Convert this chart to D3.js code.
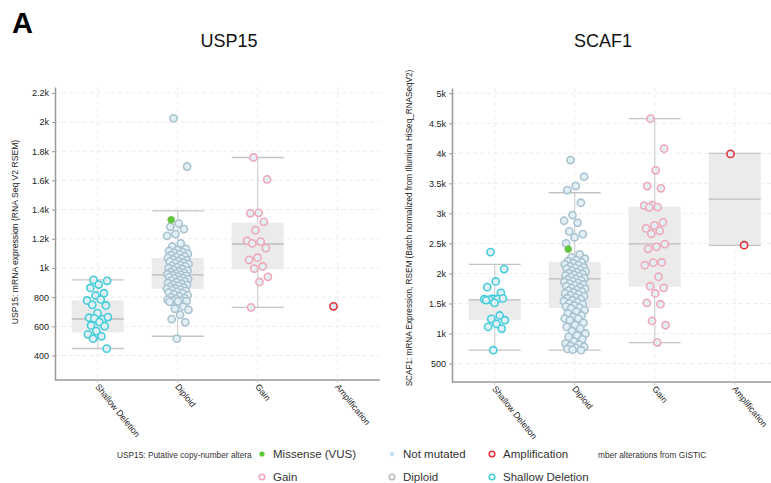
<!DOCTYPE html>
<html>
<head>
<meta charset="utf-8">
<script src="https://cdn.jsdelivr.net/npm/d3@7"></script>
<style>
  body { margin: 0; background: #fff; }
  svg { font-family: "Liberation Sans", Arial, sans-serif; }
</style>
</head>
<body>
<script>
// copy-number groups along the x axis
var categories = ["Shallow Deletion", "Diploid", "Gain", "Amplification"];

// USP15 expression values per group
var usp15Shallow = [918, 912, 886, 863, 827, 811, 777, 784, 747, 743, 690, 659, 649, 654, 663, 629, 606, 601, 567, 545, 531, 515, 447];
var usp15Diploid = [2025, 1695, 1304, 1282, 1266, 1232, 1220, 1168, 1147, 1131, 1122, 1116, 1109, 1104, 1097, 1093, 1088, 1079,
    1074, 1069, 1063, 1058, 1052, 1047, 1043, 1036, 1031, 1027, 1019, 1014, 1011, 1004, 998, 993, 987, 982, 976, 972, 966,
    961, 957, 953, 950, 946, 941, 937, 931, 928, 922, 917, 913, 906, 902, 897, 891, 886, 882, 877, 871, 866, 861, 857, 852,
    848, 843, 838, 832, 826, 819, 812, 806, 799, 793, 787, 781, 778, 776, 773, 771, 768, 736, 720, 713, 679, 649, 627, 515];
var usp15Gain = [1757, 1607, 1378, 1374, 1316, 1259, 1186, 1180, 1168, 1136, 1070, 1055, 1010, 995, 939, 904, 730];
var usp15Amp = [737];
var usp15Missense = [1330]; // in Diploid group
// box stats per group: [whisker low, q1, median, q3, whisker high]
var usp15Boxes = [[448, 559, 650, 777, 918], [532, 857, 952, 1068, 1391], [730, 990, 1164, 1309, 1757], null];

// SCAF1 expression values per group
var scaf1Shallow = [2355, 2072, 1867, 1772, 1677, 1580, 1572, 1575, 1565, 1585, 1510, 1555, 1300, 1243, 1222, 1160, 1110, 1083, 722];
var scaf1Diploid = [3888, 3610, 3455, 3388, 3177, 2972, 2877, 2843, 2700, 2655, 2600, 2500, 2317, 2268, 2245, 2221, 2204, 2186,
    2170, 2152, 2139, 2120, 2104, 2093, 2078, 2061, 2047, 2031, 2018, 2004, 1992, 1978, 1963, 1951, 1938, 1922, 1911, 1899,
    1884, 1872, 1858, 1843, 1831, 1816, 1802, 1788, 1771, 1757, 1742, 1728, 1713, 1699, 1684, 1668, 1652, 1637, 1619, 1603,
    1588, 1571, 1555, 1538, 1521, 1503, 1486, 1467, 1449, 1431, 1417, 1390, 1362, 1333, 1301, 1276, 1250, 1248, 1222, 1180,
    1143, 1110, 1083, 1042, 1000, 968, 944, 905, 870, 833, 817, 795, 780, 761, 743, 722, 730];
var scaf1Gain = [4577, 4077, 3717, 3455, 3417, 3138, 3130, 3105, 3100, 2850, 2800, 2750, 2710, 2660, 2488, 2443, 2410, 2183,
    2180, 2138, 1945, 1788, 1760, 1667, 1510, 1488, 1210, 1138, 850];
var scaf1Amp = [3990, 2470];
var scaf1Missense = [2405];
var scaf1Boxes = [[722, 1222, 1560, 1567, 2150], [722, 1427, 1910, 2193, 3343], [850, 1777, 2493, 3110, 4577], [2467, 2467, 3238, 4000, 4000]];

var usp15Ticks = [400, 600, 800, 1000, 1200, 1400, 1600, 1800, 2000, 2200];
var scaf1Ticks = [500, 1000, 1500, 2000, 2500, 3000, 3500, 4000, 4500, 5000];

var strokeColors = ["#45cdda", "#a9c2cf", "#f0a7ba", "#e3303c"];
var notMutatedFill = "#e2f0f5";
var missenseFill = "#5cc836";

var svg = d3.select("body").append("svg")
    .attr("width", 771)
    .attr("height", 483);

svg.append("text")
    .attr("x", 12).attr("y", 33)
    .attr("font-size", 29).attr("font-weight", "bold")
    .text("A");

function fmt(v) { return v >= 1000 ? (v / 1000) + "k" : String(v); }

function drawPanel(opt) {
    var g = svg.append("g");
    var y = d3.scaleLinear().domain(opt.yDomain).range([opt.bottom, opt.top]);
    var x = d3.scaleBand().domain(categories).range([opt.left + 2.7, opt.left + 322.7]);
    var cx = function(c) { return x(c) + x.bandwidth() / 2; };
    var right = opt.left + 325;

    // grid
    g.selectAll(".hgrid").data(opt.ticks).enter().append("line")
        .attr("x1", opt.left).attr("x2", right)
        .attr("y1", d => y(d)).attr("y2", d => y(d))
        .attr("stroke", "#ececec").attr("stroke-dasharray", "4,3");
    g.selectAll(".vgrid").data(categories).enter().append("line")
        .attr("x1", cx).attr("x2", cx)
        .attr("y1", opt.top).attr("y2", opt.bottom)
        .attr("stroke", "#ececec").attr("stroke-dasharray", "4,3");

    // title
    svg.append("text")
        .attr("x", opt.titleX).attr("y", 47)
        .attr("text-anchor", "middle").attr("font-size", 18).attr("fill", "#111")
        .text(opt.title);

    // y axis
    var yAxis = g.append("g")
        .attr("transform", "translate(" + opt.left + ",0)")
        .call(d3.axisLeft(y).tickValues(opt.ticks).tickFormat(fmt).tickSize(3).tickSizeOuter(0));
    yAxis.select(".domain").attr("stroke", "#999").attr("stroke-width", 1.5);
    yAxis.selectAll(".tick line").attr("stroke", "#999");
    yAxis.selectAll("text").attr("font-size", 9).attr("fill", "#222");

    // x axis
    var xAxis = g.append("g")
        .attr("transform", "translate(0," + opt.bottom + ")")
        .call(d3.axisBottom(x).tickSize(3).tickSizeOuter(0));
    xAxis.select(".domain").attr("d", "M" + opt.left + ",0H" + right)
        .attr("stroke", "#999").attr("stroke-width", 1.5);
    xAxis.selectAll(".tick line").attr("stroke", "#ccc");
    xAxis.selectAll("text")
        .attr("font-size", 8.8).attr("fill", "#222")
        .attr("text-anchor", "start")
        .attr("dy", 0).attr("y", 0)
        .attr("transform", "translate(-3,7) rotate(51)");

    // y label
    g.append("text")
        .attr("transform", "translate(" + opt.labelX + "," + opt.labelY + ") rotate(-90)")
        .attr("text-anchor", "middle").attr("font-size", opt.labelSize).attr("fill", "#222")
        .text(opt.yLabel);

    // boxes
    var bw = 52;
    opt.boxes.forEach(function(b, i) {
        if (!b) return;
        var c = cx(categories[i]);
        g.append("line").attr("x1", c).attr("x2", c).attr("y1", y(b[0])).attr("y2", y(b[4]))
            .attr("stroke", "#d0d0d0").attr("stroke-width", 1.2);
        g.append("rect").attr("x", c - bw / 2).attr("width", bw)
            .attr("y", y(b[3])).attr("height", y(b[1]) - y(b[3]))
            .attr("fill", "#ebebeb");
        [b[0], b[4]].forEach(function(v) {
            g.append("line").attr("x1", c - bw / 2).attr("x2", c + bw / 2).attr("y1", y(v)).attr("y2", y(v))
                .attr("stroke", "#c4c4c4").attr("stroke-width", 1.3);
        });
        g.append("line").attr("x1", c - bw / 2).attr("x2", c + bw / 2).attr("y1", y(b[2])).attr("y2", y(b[2]))
            .attr("stroke", "#bcbcbc").attr("stroke-width", 1.3);
    });

    // points, spread sideways within the group
    var jitter = function(i) { return ((i * 0.618034 + 0.31) % 1 - 0.5) * 22; };
    opt.groups.forEach(function(vals, gi) {
        var c = cx(categories[gi]);
        g.selectAll(null).data(vals).enter().append("circle")
            .attr("cx", (d, i) => c + jitter(i))
            .attr("cy", d => y(d))
            .attr("r", 3.6)
            .attr("fill", notMutatedFill)
            .attr("stroke", strokeColors[gi])
            .attr("stroke-width", 1.6);
    });
    var cm = cx("Diploid");
    g.selectAll(null).data(opt.missense).enter().append("circle")
        .attr("cx", cm - 6.5).attr("cy", d => y(d))
        .attr("r", 3.4).attr("fill", missenseFill).attr("stroke", "#7fc464").attr("stroke-width", 1);
}

drawPanel({
    title: "USP15", titleX: 229, left: 55, top: 87, bottom: 380,
    yDomain: [232, 2240], ticks: usp15Ticks, boxes: usp15Boxes,
    groups: [usp15Shallow, usp15Diploid, usp15Gain, usp15Amp], missense: usp15Missense,
    yLabel: "USP15: mRNA expression (RNA Seq V2 RSEM)", labelX: 18, labelY: 232, labelSize: 8.6
});

drawPanel({
    title: "SCAF1", titleX: 603, left: 452, top: 88, bottom: 382,
    yDomain: [193, 5087], ticks: scaf1Ticks, boxes: scaf1Boxes,
    groups: [scaf1Shallow, scaf1Diploid, scaf1Gain, scaf1Amp], missense: scaf1Missense,
    yLabel: "SCAF1: mRNA Expression, RSEM (Batch normalized from Illumina HiSeq_RNASeqV2)", labelX: 412, labelY: 228, labelSize: 8.2
});

// legend
var legendItems = [
    {label: "Missense (VUS)", x: 262, y: 455, fill: missenseFill, stroke: "none", r: 2.6},
    {label: "Not mutated", x: 392, y: 455, fill: "#c8e6f2", stroke: "none", r: 2.4},
    {label: "Amplification", x: 492, y: 455, fill: "#fff", stroke: strokeColors[3], r: 2.8},
    {label: "Gain", x: 262, y: 478, fill: "#fff", stroke: strokeColors[2], r: 2.8},
    {label: "Diploid", x: 392, y: 478, fill: "#fff", stroke: "#bdbdbd", r: 2.8},
    {label: "Shallow Deletion", x: 492, y: 478, fill: "#fff", stroke: strokeColors[0], r: 2.8}
];
var legend = svg.append("g");
legend.append("text").attr("x", 117).attr("y", 458).attr("font-size", 8.3).attr("fill", "#333")
    .text("USP15: Putative copy-number altera");
legend.append("text").attr("x", 598).attr("y", 458).attr("font-size", 8.3).attr("fill", "#333")
    .text("mber alterations from GISTIC");
legendItems.forEach(function(d) {
    legend.append("circle").attr("cx", d.x).attr("cy", d.y - 1)
        .attr("r", d.r).attr("fill", d.fill).attr("stroke", d.stroke).attr("stroke-width", 1.6);
    legend.append("text").attr("x", d.x + 11).attr("y", d.y + 3)
        .attr("font-size", 11.5).attr("fill", "#333").text(d.label);
});
</script>
</body>
</html>
